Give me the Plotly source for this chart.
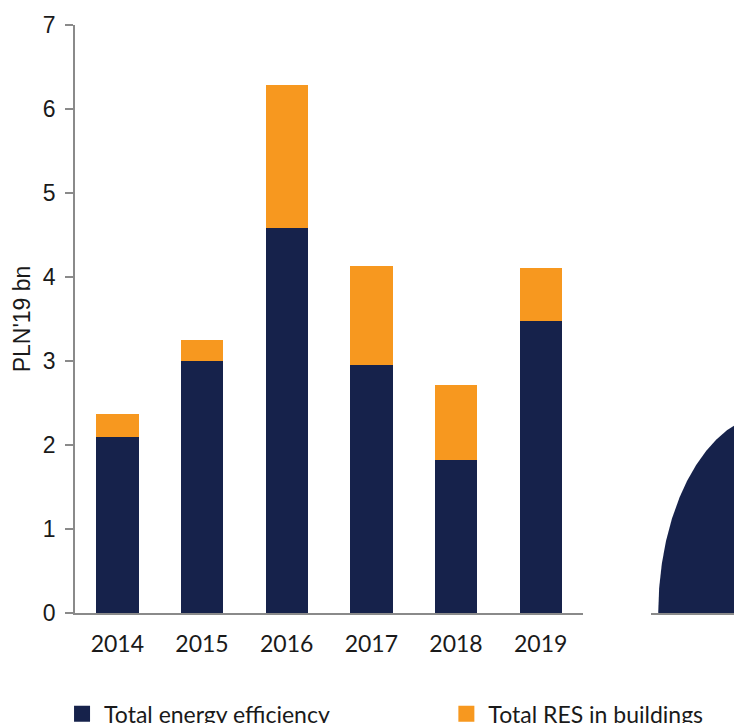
import numpy as np
import plotly.graph_objects as go

# ---- data ----
years = ["2014", "2015", "2016", "2017", "2018", "2019"]
energy_efficiency = [2.09, 3.00, 4.58, 2.95, 1.82, 3.48]
res_in_buildings = [0.28, 0.25, 1.70, 1.18, 0.90, 0.63]
series_names = ["Total energy efficiency", "Total RES in buildings"]
y_ticks = [0, 1, 2, 3, 4, 5, 6, 7]
y_title = "PLN'19 bn"

# ---- styles ----
NAVY = "#16224b"
ORANGE = "#f7981f"
AXIS = "#8a8a8a"
TEXT = "#1a1a1a"
LATO = "Lato, 'Open Sans', sans-serif"
ARIAL = "'Liberation Sans', Arial, sans-serif"

fig = go.Figure()

fig.add_bar(x=years, y=energy_efficiency, name=series_names[0], marker_color=NAVY,
            marker_line_width=0, showlegend=False)
fig.add_bar(x=years, y=res_in_buildings, name=series_names[1], marker_color=ORANGE,
            marker_line_width=0, showlegend=False)

# legend entries (square markers), each in its own legend box
for name, color, lg in zip(series_names, [NAVY, ORANGE], ["legend", "legend2"]):
    fig.add_scatter(x=[None], y=[None], mode="markers", name=name, legend=lg,
                    marker=dict(symbol="square", size=16, color=color))

# right panel: half pie of cumulative shares (partly outside the frame)
totals = [sum(energy_efficiency), sum(res_in_buildings)]
shares = np.array(totals) / sum(totals)
start = np.pi
for share, color in zip(shares, [NAVY, ORANGE]):
    end = start - share * np.pi
    t = np.linspace(start, end, 300)
    xs = np.concatenate([[0.0], np.cos(t), [0.0]])
    ys = np.concatenate([[0.0], np.sin(t), [0.0]])
    fig.add_scatter(x=xs, y=ys, xaxis="x2", yaxis="y2", mode="lines", fill="toself",
                    fillcolor=color, line=dict(width=0, color=color),
                    showlegend=False, hoverinfo="skip")
    start = end

legend_common = dict(orientation="h", yanchor="middle", y=-0.1715, xanchor="left",
                     font=dict(family=LATO, size=23, color=TEXT), itemwidth=34,
                     bgcolor="rgba(0,0,0,0)", itemclick=False, itemdoubleclick=False)

fig.update_layout(
    width=734, height=723,
    margin=dict(l=75, r=0, t=25, b=110.3, autoexpand=False),
    paper_bgcolor="white", plot_bgcolor="white",
    barmode="stack", bargap=0.5,
    showlegend=True,
    legend=dict(x=-0.0227, **legend_common),
    legend2=dict(x=0.5605, **legend_common),
    xaxis=dict(domain=[0, 0.7709], type="category", showline=True, linecolor=AXIS,
               linewidth=1.5, ticks="", showgrid=False, zeroline=False,
               tickfont=dict(family=LATO, size=23, color=TEXT), ticklabelstandoff=10),
    yaxis=dict(range=[0, 7], tickvals=y_ticks, showline=True, linecolor=AXIS, linewidth=1.5,
               ticks="outside", ticklen=8, tickcolor=AXIS, tickwidth=1.5,
               showgrid=False, zeroline=False, ticklabelstandoff=5,
               tickfont=dict(family=ARIAL, size=23, color=TEXT),
               title=dict(text=y_title, font=dict(family=ARIAL, size=23, color=TEXT), standoff=6)),
    xaxis2=dict(domain=[0.874, 1], anchor="y2", range=[-1.063, -0.347], showline=True,
                linecolor=AXIS, linewidth=1.5, ticks="", showticklabels=False,
                showgrid=False, zeroline=False, fixedrange=True),
    yaxis2=dict(domain=[0, 1], anchor="x2", range=[0, 2.9385], visible=False,
                fixedrange=True),
)

fig.write_html(
    "out.html",
    config={"displayModeBar": False},
    post_script="document.body.style.margin='0';document.body.style.overflow='hidden';",
)
